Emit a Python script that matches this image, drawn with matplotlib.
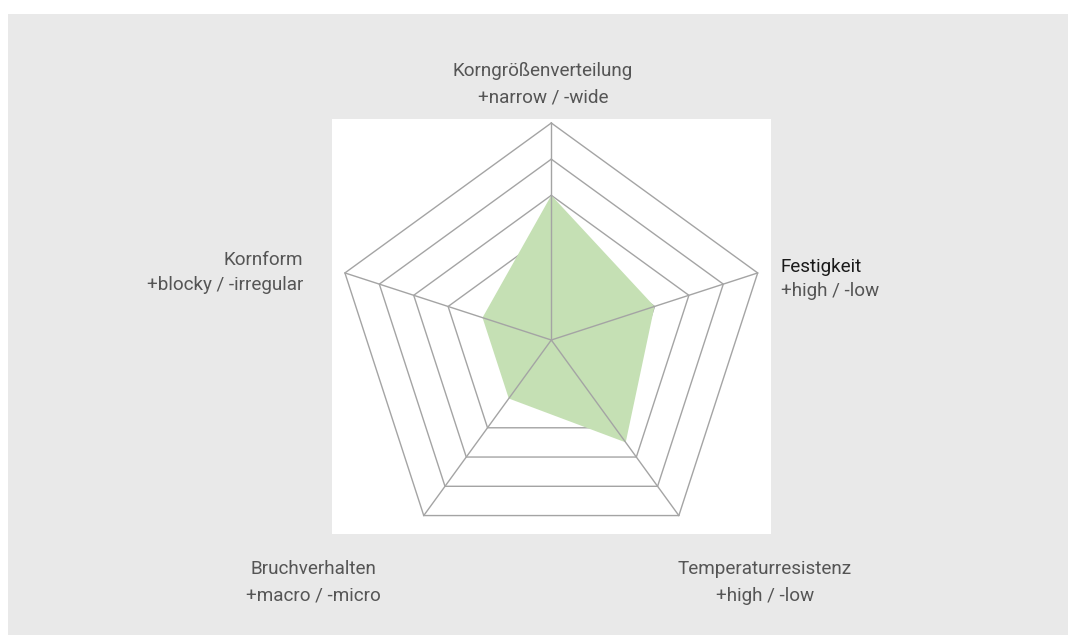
import numpy as np
import matplotlib
matplotlib.use("Agg")
import matplotlib.pyplot as plt
from matplotlib.patches import Rectangle

# ---- data ----
categories = ["Korngrößenverteilung", "Festigkeit", "Temperaturresistenz",
              "Bruchverhalten", "Kornform"]
subtitles = ["+narrow / -wide", "+high / -low", "+high / -low",
             "+macro / -micro", "+blocky / -irregular"]
values = [1, 0, 0.5, -1, -1]
ring_levels = [0, 1, 2, 3]
r_min, r_max = -3, 3

W, H = 1068, 635
DPI = 100
fig = plt.figure(figsize=(W / DPI, H / DPI), dpi=DPI)
fig.patch.set_facecolor("white")

def fx(px):
    return px / W

def fy(py):
    return 1 - py / H

# gray panel and white plot area
fig.patches.append(Rectangle((fx(8), fy(635)), fx(1060), 621 / H,
                             transform=fig.transFigure, facecolor="#e9e9e9",
                             edgecolor="none", zorder=-2))
fig.patches.append(Rectangle((fx(332), fy(534)), fx(439), 415 / H,
                             transform=fig.transFigure, facecolor="white",
                             edgecolor="none", zorder=-1))

# polar axes
cx, cy, R = 551.3, 340.0, 217.0
ax = fig.add_axes([fx(cx - R), fy(cy + R), 2 * R / W, 2 * R / H],
                  projection="polar")
ax.set_zorder(2)
ax.set_facecolor("none")
ax.patch.set_alpha(0)
ax.set_theta_zero_location("N")
ax.set_theta_direction(-1)
ax.set_ylim(r_min, r_max)
ax.grid(False)
ax.spines["polar"].set_visible(False)
ax.set_xticks([])
ax.set_yticks([])

n = len(categories)
theta = np.linspace(0, 2 * np.pi, n, endpoint=False)
theta_c = np.append(theta, theta[0])

grid_col = "#a4a4a4"
for lev in ring_levels:
    ax.plot(theta_c, [lev] * (n + 1), color=grid_col, lw=1.0, zorder=1,
            clip_on=False)

vals_c = np.append(values, values[0])
ax.fill(theta_c, vals_c, color="#c5e0b4", zorder=2, lw=0)

for t in theta:
    ax.plot([t, t], [r_min, r_max], color=grid_col, lw=1.0, zorder=3,
            clip_on=False)

# labels
font = "Roboto"
gray_txt = "#555555"
fs = 13.6
label_pos = [  # (x, y_line1, y_line2, ha)
    (543, 71, 98, "center"),
    (781, 267, 291, "left"),
    (765, 569, 596, "center"),
    (313, 569, 596, "center"),
    (303, 260, 285, "right"),
]
for i, (name, sub) in enumerate(zip(categories, subtitles)):
    x, y1, y2, ha = label_pos[i]
    c1 = "#1a1a1a" if i == 1 else gray_txt
    fig.text(fx(x), fy(y1), name, ha=ha, va="center", fontsize=fs,
             color=c1, family=font, zorder=5)
    fig.text(fx(x), fy(y2), sub, ha=ha, va="center", fontsize=fs,
             color=gray_txt, family=font, zorder=5)

fig.savefig("out.png", dpi=DPI)
